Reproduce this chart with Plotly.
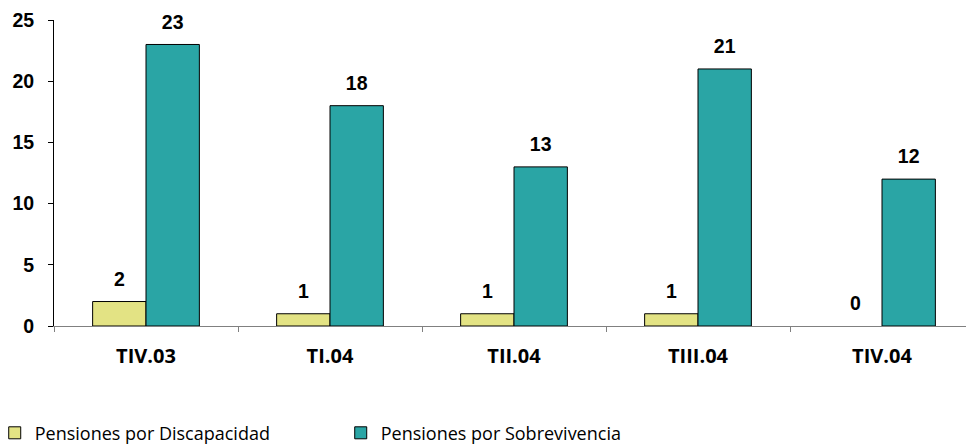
import plotly.graph_objects as go

categories = ["TIV.03", "TI.04", "TII.04", "TIII.04", "TIV.04"]
discapacidad = [2, 1, 1, 1, 0]
sobrevivencia = [23, 18, 13, 21, 12]
series_names = ["Pensiones por Discapacidad", "Pensiones por Sobrevivencia"]
y_ticks = [0, 5, 10, 15, 20, 25]

fig = go.Figure()
colors = ["#E3E384", "#2AA5A5"]
for name, vals, col in zip(series_names, [discapacidad, sobrevivencia], colors):
    fig.add_trace(go.Bar(
        x=categories, y=vals, name=name, offsetgroup=name,
        marker=dict(color=col, line=dict(color="#000000",
                                         width=[1 if v else 0 for v in vals])),
    ))
for name, vals in zip(series_names, [discapacidad, sobrevivencia]):
    fig.add_trace(go.Scatter(
        x=categories, y=vals, mode="markers+text", offsetgroup=name,
        text=[str(v) for v in vals], textposition="top center",
        marker=dict(size=16, color="rgba(0,0,0,0)"),
        textfont=dict(family="Liberation Sans", size=19.5, color="#000000", weight="bold"),
        showlegend=False, hoverinfo="skip", cliponaxis=False,
    ))

fig.update_layout(
    width=966, height=444,
    margin=dict(l=54, r=0, t=20, b=118, autoexpand=False),
    paper_bgcolor="white", plot_bgcolor="white",
    barmode="group", scattermode="group",
    bargap=0.42, bargroupgap=0,
    showlegend=True,
    legend=dict(orientation="h", x=-0.065, y=-0.35, xanchor="left", yanchor="middle",
                entrywidth=301, entrywidthmode="pixels",
                font=dict(family="Open Sans", size=18, color="#000000"),
                itemwidth=30, tracegroupgap=0),
)
fig.update_xaxes(
    type="category", range=[-0.5, 4.4565], automargin=False,
    showline=True, linecolor="#808080", linewidth=1,
    ticks="outside", tickson="boundaries", ticklen=5, tickcolor="#808080",
    tickfont=dict(family="Open Sans", size=20, color="#000000", weight="bold"),
    ticklabelstandoff=12, showgrid=False,
)
fig.update_yaxes(
    range=[0, 25], tickvals=y_ticks, automargin=False,
    showline=True, linecolor="#000000", linewidth=1,
    ticks="outside", ticklen=5, tickcolor="#000000",
    tickfont=dict(family="Liberation Sans", size=19.5, color="#000000", weight="bold"),
    ticklabelstandoff=10, showgrid=False, zeroline=False,
)

fig.write_html("out.html", config={"displayModeBar": False},
               post_script="document.body.style.margin='0';document.body.style.overflow='hidden';")
